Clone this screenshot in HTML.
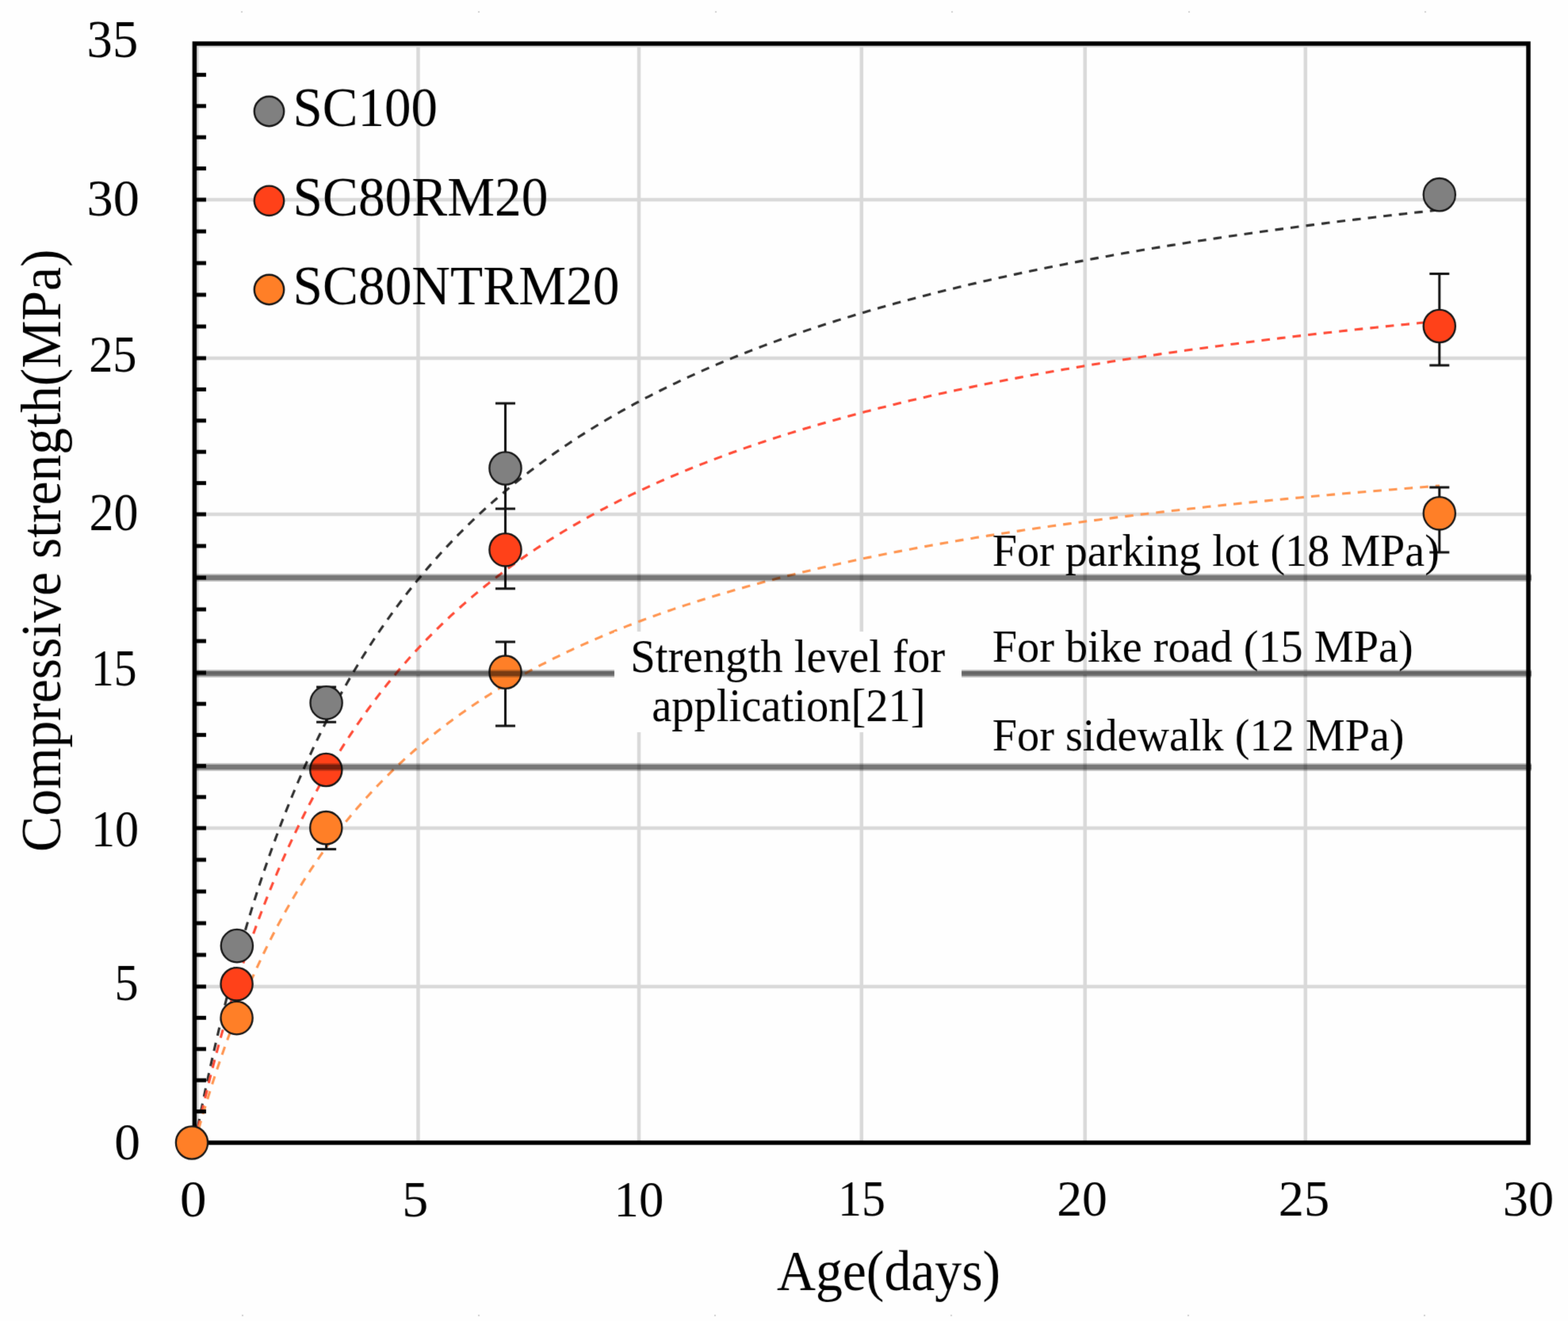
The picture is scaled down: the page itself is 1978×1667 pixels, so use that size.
<!DOCTYPE html>
<html><head><meta charset="utf-8"><title>Compressive strength chart</title>
<style>html,body{margin:0;padding:0;background:#fefefe;width:1978px;height:1667px;overflow:hidden}</style>
</head><body>
<svg width="1978" height="1667" viewBox="0 0 1978 1667" style="display:block">
<defs><filter id="sf" x="0" y="0" width="1978" height="1667" filterUnits="userSpaceOnUse" color-interpolation-filters="sRGB"><feConvolveMatrix order="3" kernelMatrix="0.01134 0.08382 0.01134 0.08382 0.61935 0.08382 0.01134 0.08382 0.01134" edgeMode="duplicate" preserveAlpha="true"/></filter></defs>
<g filter="url(#sf)">
<rect x="0" y="0" width="1978" height="1667" fill="#fefefe"/>
<line x1="248.5" y1="55" x2="248.5" y2="1442" stroke="#d9d9d9" stroke-width="4.5"/>
<line x1="527.5" y1="55" x2="527.5" y2="1442" stroke="#d9d9d9" stroke-width="4.5"/>
<line x1="806" y1="55" x2="806" y2="1442" stroke="#d9d9d9" stroke-width="4.5"/>
<line x1="1086.8" y1="55" x2="1086.8" y2="1442" stroke="#d9d9d9" stroke-width="4.5"/>
<line x1="1368.7" y1="55" x2="1368.7" y2="1442" stroke="#d9d9d9" stroke-width="4.5"/>
<line x1="1646.8" y1="55" x2="1646.8" y2="1442" stroke="#d9d9d9" stroke-width="4.5"/>
<line x1="245" y1="57.5" x2="1928" y2="57.5" stroke="#d9d9d9" stroke-width="4.5"/>
<line x1="245" y1="252" x2="1928" y2="252" stroke="#d9d9d9" stroke-width="4.5"/>
<line x1="245" y1="452" x2="1928" y2="452" stroke="#d9d9d9" stroke-width="4.5"/>
<line x1="245" y1="649" x2="1928" y2="649" stroke="#d9d9d9" stroke-width="4.5"/>
<line x1="245" y1="849" x2="1928" y2="849" stroke="#d9d9d9" stroke-width="4.5"/>
<line x1="245" y1="1045" x2="1928" y2="1045" stroke="#d9d9d9" stroke-width="4.5"/>
<line x1="245" y1="1245" x2="1928" y2="1245" stroke="#d9d9d9" stroke-width="4.5"/>
<polyline points="245.40,1443.50 245.41,1443.47 245.43,1443.37 245.46,1443.20 245.50,1442.97 245.56,1442.68 245.63,1442.32 245.71,1441.89 245.80,1441.40 245.91,1440.84 246.03,1440.22 246.16,1439.53 246.30,1438.78 246.46,1437.96 246.63,1437.08 246.81,1436.14 247.01,1435.13 247.22,1434.06 247.44,1432.92 247.67,1431.73 247.91,1430.47 248.17,1429.15 248.44,1427.76 248.72,1426.32 249.02,1424.81 249.33,1423.24 249.65,1421.62 249.98,1419.93 250.33,1418.19 250.68,1416.38 251.05,1414.52 251.44,1412.60 251.83,1410.62 252.24,1408.59 252.66,1406.50 253.10,1404.35 253.54,1402.15 254.00,1399.90 254.47,1397.59 254.96,1395.22 255.45,1392.81 255.96,1390.34 256.48,1387.82 257.02,1385.25 257.56,1382.64 258.12,1379.97 258.69,1377.25 259.28,1374.48 259.87,1371.67 260.48,1368.81 261.11,1365.90 261.74,1362.95 262.39,1359.96 263.05,1356.92 263.72,1353.83 264.40,1350.71 265.10,1347.54 265.81,1344.33 266.53,1341.08 267.27,1337.80 268.02,1334.47 268.78,1331.10 269.55,1327.70 270.33,1324.26 271.13,1320.79 271.94,1317.28 272.77,1313.73 273.60,1310.15 274.45,1306.54 275.31,1302.90 276.18,1299.22 277.07,1295.52 277.97,1291.78 278.88,1288.02 279.80,1284.23 280.74,1280.41 281.69,1276.56 282.65,1272.69 283.62,1268.79 284.61,1264.87 285.61,1260.92 286.62,1256.95 287.64,1252.96 288.68,1248.94 289.73,1244.91 290.79,1240.85 291.86,1236.78 292.95,1232.68 294.05,1228.57 295.16,1224.44 296.29,1220.29 297.42,1216.13 298.57,1211.95 299.74,1207.75 300.91,1203.55 302.10,1199.32 303.30,1195.09 304.51,1190.84 305.74,1186.58 306.97,1182.31 308.22,1178.03 309.49,1173.75 310.76,1169.45 312.05,1165.14 313.35,1160.82 314.66,1156.50 315.99,1152.17 317.33,1147.84 318.68,1143.49 320.04,1139.15 321.42,1134.80 322.81,1130.44 324.21,1126.08 325.62,1121.72 327.05,1117.36 328.48,1112.99 329.94,1108.62 331.40,1104.25 332.88,1099.88 334.37,1095.51 335.87,1091.14 337.38,1086.78 338.91,1082.41 340.45,1078.04 342.00,1073.68 343.56,1069.32 345.14,1064.97 346.73,1060.61 348.33,1056.26 349.95,1051.92 351.57,1047.58 353.21,1043.24 354.86,1038.91 356.53,1034.59 358.21,1030.27 359.90,1025.96 361.60,1021.65 363.31,1017.35 365.04,1013.06 366.78,1008.78 368.54,1004.50 370.30,1000.24 372.08,995.98 373.87,991.73 375.67,987.49 377.49,983.26 379.32,979.05 381.16,974.84 383.01,970.64 384.88,966.45 386.75,962.27 388.65,958.10 390.55,953.95 392.46,949.81 394.39,945.67 396.33,941.55 398.29,937.45 400.25,933.35 402.23,929.27 404.23,925.20 406.23,921.14 408.25,917.10 410.28,913.07 412.32,909.05 414.37,905.05 416.44,901.06 418.52,897.08 420.61,893.12 422.71,889.17 424.83,885.24 426.96,881.32 429.10,877.42 431.26,873.53 433.43,869.65 435.61,865.79 437.80,861.95 440.00,858.12 442.22,854.31 444.45,850.51 446.69,846.72 448.95,842.96 451.22,839.20 453.50,835.47 455.79,831.75 458.10,828.04 460.42,824.35 462.75,820.68 465.09,817.02 467.45,813.38 469.81,809.75 472.19,806.15 474.59,802.55 476.99,798.98 479.41,795.42 481.84,791.87 484.29,788.34 486.74,784.83 489.21,781.34 491.70,777.86 494.19,774.40 496.70,770.95 499.22,767.52 501.75,764.11 504.29,760.71 506.85,757.33 509.42,753.97 512.00,750.62 514.59,747.29 517.20,743.97 519.82,740.67 522.45,737.39 525.10,734.13 527.76,730.88 530.43,727.65 533.11,724.43 535.80,721.23 538.51,718.05 541.23,714.88 543.96,711.73 546.71,708.59 549.47,705.48 552.24,702.37 555.02,699.29 557.82,696.22 560.63,693.16 563.45,690.13 566.28,687.11 569.13,684.10 571.98,681.11 574.86,678.14 577.74,675.18 580.64,672.24 583.54,669.31 586.47,666.40 589.40,663.50 592.35,660.62 595.30,657.76 598.28,654.91 601.26,652.08 604.26,649.26 607.27,646.46 610.29,643.67 613.32,640.90 616.37,638.15 619.43,635.41 622.50,632.68 625.59,629.97 628.68,627.28 631.79,624.59 634.92,621.93 638.05,619.28 641.20,616.64 644.36,614.02 647.53,611.41 650.72,608.82 653.91,606.24 657.12,603.68 660.35,601.13 663.58,598.60 666.83,596.08 670.09,593.57 673.36,591.08 676.65,588.60 679.95,586.14 683.26,583.69 686.58,581.25 689.92,578.83 693.27,576.42 696.63,574.02 700.00,571.64 703.39,569.28 706.79,566.92 710.20,564.58 713.62,562.25 717.06,559.94 720.51,557.64 723.97,555.35 727.44,553.08 730.93,550.81 734.43,548.57 737.94,546.33 741.46,544.11 745.00,541.90 748.55,539.70 752.11,537.51 755.69,535.34 759.28,533.18 762.88,531.03 766.49,528.90 770.11,526.78 773.75,524.66 777.40,522.57 781.06,520.48 784.74,518.40 788.43,516.34 792.13,514.29 795.84,512.25 799.56,510.22 803.30,508.21 807.05,506.20 810.82,504.21 814.59,502.23 818.38,500.26 822.18,498.30 825.99,496.36 829.82,494.42 833.66,492.50 837.51,490.58 841.37,488.68 845.25,486.79 849.14,484.91 853.04,483.04 856.95,481.18 860.88,479.33 864.82,477.49 868.77,475.66 872.74,473.85 876.71,472.04 880.70,470.24 884.70,468.46 888.72,466.68 892.74,464.92 896.78,463.16 900.84,461.42 904.90,459.68 908.98,457.96 913.07,456.24 917.17,454.53 921.29,452.84 925.41,451.15 929.55,449.48 933.71,447.81 937.87,446.15 942.05,444.50 946.24,442.86 950.44,441.24 954.66,439.62 958.89,438.00 963.13,436.40 967.38,434.81 971.65,433.23 975.92,431.65 980.21,430.09 984.52,428.53 988.83,426.98 993.16,425.44 997.50,423.91 1001.86,422.39 1006.22,420.88 1010.60,419.37 1014.99,417.88 1019.40,416.39 1023.81,414.91 1028.24,413.44 1032.69,411.98 1037.14,410.52 1041.61,409.08 1046.09,407.64 1050.58,406.21 1055.08,404.79 1059.60,403.37 1064.13,401.97 1068.67,400.57 1073.23,399.18 1077.79,397.80 1082.37,396.42 1086.97,395.06 1091.57,393.70 1096.19,392.34 1100.82,391.00 1105.46,389.66 1110.12,388.33 1114.78,387.01 1119.46,385.70 1124.16,384.39 1128.86,383.09 1133.58,381.80 1138.31,380.51 1143.05,379.23 1147.81,377.96 1152.58,376.70 1157.36,375.44 1162.15,374.19 1166.96,372.94 1171.78,371.71 1176.61,370.48 1181.45,369.25 1186.31,368.04 1191.18,366.83 1196.06,365.62 1200.95,364.43 1205.86,363.24 1210.78,362.05 1215.71,360.88 1220.65,359.70 1225.61,358.54 1230.58,357.38 1235.56,356.23 1240.56,355.08 1245.56,353.95 1250.58,352.81 1255.62,351.68 1260.66,350.56 1265.72,349.45 1270.79,348.34 1275.87,347.24 1280.97,346.14 1286.07,345.05 1291.19,343.96 1296.33,342.88 1301.47,341.81 1306.63,340.74 1311.80,339.68 1316.98,338.62 1322.18,337.57 1327.39,336.53 1332.61,335.49 1337.84,334.45 1343.09,333.43 1348.34,332.40 1353.62,331.38 1358.90,330.37 1364.19,329.37 1369.50,328.36 1374.82,327.37 1380.16,326.38 1385.50,325.39 1390.86,324.41 1396.24,323.43 1401.62,322.46 1407.02,321.50 1412.42,320.54 1417.85,319.58 1423.28,318.63 1428.73,317.69 1434.19,316.75 1439.66,315.81 1445.14,314.88 1450.64,313.96 1456.15,313.04 1461.67,312.12 1467.21,311.21 1472.75,310.30 1478.31,309.40 1483.89,308.50 1489.47,307.61 1495.07,306.72 1500.68,305.84 1506.30,304.96 1511.94,304.09 1517.59,303.22 1523.25,302.35 1528.92,301.49 1534.61,300.63 1540.30,299.78 1546.01,298.93 1551.74,298.09 1557.47,297.25 1563.22,296.42 1568.98,295.58 1574.76,294.76 1580.54,293.94 1586.34,293.12 1592.15,292.30 1597.98,291.49 1603.81,290.69 1609.66,289.89 1615.52,289.09 1621.40,288.30 1627.28,287.51 1633.18,286.72 1639.09,285.94 1645.02,285.16 1650.96,284.39 1656.90,283.62 1662.87,282.85 1668.84,282.09 1674.83,281.33 1680.83,280.58 1686.84,279.82 1692.86,279.08 1698.90,278.33 1704.95,277.59 1711.01,276.86 1717.09,276.12 1723.18,275.40 1729.28,274.67 1735.39,273.95 1741.52,273.23 1747.65,272.52 1753.80,271.80 1759.97,271.10 1766.14,270.39 1772.33,269.69 1778.53,268.99 1784.75,268.30 1790.97,267.61 1797.21,266.92 1803.46,266.24 1809.72,265.56 1816.00,264.88" fill="none" stroke="#2e2e2e" stroke-width="3.1" stroke-dasharray="10.6 9.076" stroke-dashoffset="17.8"/>
<polyline points="245.40,1443.50 245.41,1443.47 245.43,1443.39 245.46,1443.24 245.50,1443.04 245.56,1442.78 245.63,1442.47 245.71,1442.09 245.80,1441.67 245.91,1441.18 246.03,1440.64 246.16,1440.04 246.30,1439.38 246.46,1438.67 246.63,1437.90 246.81,1437.08 247.01,1436.20 247.22,1435.26 247.44,1434.27 247.67,1433.22 247.91,1432.12 248.17,1430.97 248.44,1429.76 248.72,1428.50 249.02,1427.19 249.33,1425.82 249.65,1424.40 249.98,1422.93 250.33,1421.40 250.68,1419.83 251.05,1418.20 251.44,1416.53 251.83,1414.80 252.24,1413.02 252.66,1411.20 253.10,1409.32 253.54,1407.40 254.00,1405.43 254.47,1403.42 254.96,1401.35 255.45,1399.24 255.96,1397.09 256.48,1394.89 257.02,1392.64 257.56,1390.36 258.12,1388.02 258.69,1385.65 259.28,1383.23 259.87,1380.78 260.48,1378.28 261.11,1375.74 261.74,1373.16 262.39,1370.54 263.05,1367.88 263.72,1365.19 264.40,1362.46 265.10,1359.69 265.81,1356.89 266.53,1354.05 267.27,1351.17 268.02,1348.26 268.78,1345.32 269.55,1342.34 270.33,1339.34 271.13,1336.30 271.94,1333.23 272.77,1330.13 273.60,1327.00 274.45,1323.84 275.31,1320.66 276.18,1317.44 277.07,1314.20 277.97,1310.93 278.88,1307.64 279.80,1304.32 280.74,1300.98 281.69,1297.61 282.65,1294.22 283.62,1290.81 284.61,1287.38 285.61,1283.92 286.62,1280.45 287.64,1276.95 288.68,1273.44 289.73,1269.91 290.79,1266.36 291.86,1262.79 292.95,1259.20 294.05,1255.60 295.16,1251.98 296.29,1248.35 297.42,1244.70 298.57,1241.04 299.74,1237.37 300.91,1233.68 302.10,1229.98 303.30,1226.27 304.51,1222.55 305.74,1218.82 306.97,1215.08 308.22,1211.33 309.49,1207.57 310.76,1203.80 312.05,1200.03 313.35,1196.24 314.66,1192.45 315.99,1188.66 317.33,1184.86 318.68,1181.05 320.04,1177.24 321.42,1173.42 322.81,1169.60 324.21,1165.78 325.62,1161.95 327.05,1158.12 328.48,1154.29 329.94,1150.46 331.40,1146.63 332.88,1142.79 334.37,1138.96 335.87,1135.12 337.38,1131.29 338.91,1127.46 340.45,1123.63 342.00,1119.80 343.56,1115.97 345.14,1112.14 346.73,1108.32 348.33,1104.50 349.95,1100.68 351.57,1096.87 353.21,1093.06 354.86,1089.26 356.53,1085.46 358.21,1081.67 359.90,1077.88 361.60,1074.10 363.31,1070.32 365.04,1066.55 366.78,1062.79 368.54,1059.03 370.30,1055.28 372.08,1051.54 373.87,1047.81 375.67,1044.08 377.49,1040.36 379.32,1036.65 381.16,1032.95 383.01,1029.26 384.88,1025.57 386.75,1021.90 388.65,1018.24 390.55,1014.58 392.46,1010.94 394.39,1007.30 396.33,1003.68 398.29,1000.06 400.25,996.46 402.23,992.87 404.23,989.29 406.23,985.72 408.25,982.16 410.28,978.61 412.32,975.08 414.37,971.55 416.44,968.04 418.52,964.54 420.61,961.05 422.71,957.58 424.83,954.11 426.96,950.66 429.10,947.22 431.26,943.80 433.43,940.39 435.61,936.99 437.80,933.60 440.00,930.23 442.22,926.87 444.45,923.52 446.69,920.19 448.95,916.87 451.22,913.56 453.50,910.27 455.79,906.99 458.10,903.72 460.42,900.47 462.75,897.24 465.09,894.01 467.45,890.80 469.81,887.61 472.19,884.42 474.59,881.26 476.99,878.10 479.41,874.96 481.84,871.84 484.29,868.73 486.74,865.63 489.21,862.55 491.70,859.48 494.19,856.42 496.70,853.38 499.22,850.36 501.75,847.35 504.29,844.35 506.85,841.37 509.42,838.40 512.00,835.45 514.59,832.51 517.20,829.58 519.82,826.67 522.45,823.77 525.10,820.89 527.76,818.02 530.43,815.17 533.11,812.33 535.80,809.51 538.51,806.70 541.23,803.90 543.96,801.12 546.71,798.35 549.47,795.60 552.24,792.86 555.02,790.13 557.82,787.42 560.63,784.72 563.45,782.04 566.28,779.37 569.13,776.72 571.98,774.07 574.86,771.45 577.74,768.83 580.64,766.23 583.54,763.65 586.47,761.08 589.40,758.52 592.35,755.98 595.30,753.44 598.28,750.93 601.26,748.42 604.26,745.93 607.27,743.46 610.29,740.99 613.32,738.54 616.37,736.11 619.43,733.69 622.50,731.28 625.59,728.88 628.68,726.50 631.79,724.13 634.92,721.77 638.05,719.42 641.20,717.09 644.36,714.77 647.53,712.47 650.72,710.18 653.91,707.90 657.12,705.63 660.35,703.37 663.58,701.13 666.83,698.90 670.09,696.69 673.36,694.48 676.65,692.29 679.95,690.11 683.26,687.94 686.58,685.79 689.92,683.64 693.27,681.51 696.63,679.39 700.00,677.29 703.39,675.19 706.79,673.11 710.20,671.03 713.62,668.97 717.06,666.93 720.51,664.89 723.97,662.86 727.44,660.85 730.93,658.85 734.43,656.86 737.94,654.88 741.46,652.91 745.00,650.95 748.55,649.01 752.11,647.07 755.69,645.15 759.28,643.24 762.88,641.33 766.49,639.44 770.11,637.56 773.75,635.69 777.40,633.84 781.06,631.99 784.74,630.15 788.43,628.32 792.13,626.51 795.84,624.70 799.56,622.90 803.30,621.12 807.05,619.34 810.82,617.58 814.59,615.82 818.38,614.08 822.18,612.34 825.99,610.62 829.82,608.90 833.66,607.20 837.51,605.50 841.37,603.81 845.25,602.14 849.14,600.47 853.04,598.81 856.95,597.17 860.88,595.53 864.82,593.90 868.77,592.28 872.74,590.67 876.71,589.07 880.70,587.48 884.70,585.89 888.72,584.32 892.74,582.75 896.78,581.20 900.84,579.65 904.90,578.11 908.98,576.58 913.07,575.06 917.17,573.55 921.29,572.05 925.41,570.55 929.55,569.06 933.71,567.59 937.87,566.12 942.05,564.65 946.24,563.20 950.44,561.76 954.66,560.32 958.89,558.89 963.13,557.47 967.38,556.06 971.65,554.65 975.92,553.26 980.21,551.87 984.52,550.49 988.83,549.12 993.16,547.75 997.50,546.39 1001.86,545.04 1006.22,543.70 1010.60,542.37 1014.99,541.04 1019.40,539.72 1023.81,538.41 1028.24,537.10 1032.69,535.80 1037.14,534.51 1041.61,533.23 1046.09,531.95 1050.58,530.69 1055.08,529.42 1059.60,528.17 1064.13,526.92 1068.67,525.68 1073.23,524.45 1077.79,523.22 1082.37,522.00 1086.97,520.79 1091.57,519.58 1096.19,518.38 1100.82,517.19 1105.46,516.00 1110.12,514.82 1114.78,513.65 1119.46,512.48 1124.16,511.32 1128.86,510.17 1133.58,509.02 1138.31,507.88 1143.05,506.74 1147.81,505.61 1152.58,504.49 1157.36,503.38 1162.15,502.27 1166.96,501.16 1171.78,500.06 1176.61,498.97 1181.45,497.88 1186.31,496.80 1191.18,495.73 1196.06,494.66 1200.95,493.60 1205.86,492.54 1210.78,491.49 1215.71,490.45 1220.65,489.41 1225.61,488.37 1230.58,487.34 1235.56,486.32 1240.56,485.30 1245.56,484.29 1250.58,483.28 1255.62,482.28 1260.66,481.29 1265.72,480.30 1270.79,479.31 1275.87,478.33 1280.97,477.36 1286.07,476.39 1291.19,475.43 1296.33,474.47 1301.47,473.51 1306.63,472.56 1311.80,471.62 1316.98,470.68 1322.18,469.75 1327.39,468.82 1332.61,467.90 1337.84,466.98 1343.09,466.06 1348.34,465.16 1353.62,464.25 1358.90,463.35 1364.19,462.46 1369.50,461.57 1374.82,460.68 1380.16,459.80 1385.50,458.93 1390.86,458.06 1396.24,457.19 1401.62,456.33 1407.02,455.47 1412.42,454.62 1417.85,453.77 1423.28,452.92 1428.73,452.08 1434.19,451.25 1439.66,450.42 1445.14,449.59 1450.64,448.77 1456.15,447.95 1461.67,447.13 1467.21,446.32 1472.75,445.52 1478.31,444.72 1483.89,443.92 1489.47,443.13 1495.07,442.34 1500.68,441.55 1506.30,440.77 1511.94,439.99 1517.59,439.22 1523.25,438.45 1528.92,437.69 1534.61,436.93 1540.30,436.17 1546.01,435.41 1551.74,434.66 1557.47,433.92 1563.22,433.18 1568.98,432.44 1574.76,431.70 1580.54,430.97 1586.34,430.25 1592.15,429.52 1597.98,428.80 1603.81,428.09 1609.66,427.37 1615.52,426.66 1621.40,425.96 1627.28,425.26 1633.18,424.56 1639.09,423.86 1645.02,423.17 1650.96,422.48 1656.90,421.80 1662.87,421.12 1668.84,420.44 1674.83,419.77 1680.83,419.09 1686.84,418.43 1692.86,417.76 1698.90,417.10 1704.95,416.44 1711.01,415.79 1717.09,415.14 1723.18,414.49 1729.28,413.84 1735.39,413.20 1741.52,412.56 1747.65,411.93 1753.80,411.30 1759.97,410.67 1766.14,410.04 1772.33,409.42 1778.53,408.80 1784.75,408.18 1790.97,407.56 1797.21,406.95 1803.46,406.35 1809.72,405.74 1816.00,405.14" fill="none" stroke="#ff4a35" stroke-width="3.1" stroke-dasharray="10.6 9.076" stroke-dashoffset="19.56"/>
<polyline points="245.40,1443.50 245.41,1443.48 245.43,1443.41 245.46,1443.29 245.50,1443.13 245.56,1442.92 245.63,1442.67 245.71,1442.37 245.80,1442.03 245.91,1441.64 246.03,1441.20 246.16,1440.72 246.30,1440.20 246.46,1439.62 246.63,1439.01 246.81,1438.35 247.01,1437.64 247.22,1436.89 247.44,1436.10 247.67,1435.26 247.91,1434.38 248.17,1433.45 248.44,1432.48 248.72,1431.47 249.02,1430.42 249.33,1429.32 249.65,1428.18 249.98,1427.00 250.33,1425.78 250.68,1424.52 251.05,1423.21 251.44,1421.87 251.83,1420.48 252.24,1419.06 252.66,1417.59 253.10,1416.09 253.54,1414.55 254.00,1412.97 254.47,1411.35 254.96,1409.70 255.45,1408.01 255.96,1406.28 256.48,1404.52 257.02,1402.72 257.56,1400.88 258.12,1399.01 258.69,1397.11 259.28,1395.17 259.87,1393.20 260.48,1391.20 261.11,1389.16 261.74,1387.10 262.39,1385.00 263.05,1382.87 263.72,1380.71 264.40,1378.52 265.10,1376.30 265.81,1374.05 266.53,1371.77 267.27,1369.47 268.02,1367.14 268.78,1364.78 269.55,1362.39 270.33,1359.98 271.13,1357.55 271.94,1355.09 272.77,1352.60 273.60,1350.09 274.45,1347.56 275.31,1345.01 276.18,1342.43 277.07,1339.83 277.97,1337.22 278.88,1334.58 279.80,1331.92 280.74,1329.24 281.69,1326.54 282.65,1323.82 283.62,1321.09 284.61,1318.34 285.61,1315.57 286.62,1312.79 287.64,1309.98 288.68,1307.17 289.73,1304.34 290.79,1301.49 291.86,1298.63 292.95,1295.76 294.05,1292.87 295.16,1289.98 296.29,1287.07 297.42,1284.14 298.57,1281.21 299.74,1278.27 300.91,1275.32 302.10,1272.35 303.30,1269.38 304.51,1266.40 305.74,1263.41 306.97,1260.41 308.22,1257.41 309.49,1254.40 310.76,1251.38 312.05,1248.35 313.35,1245.32 314.66,1242.29 315.99,1239.25 317.33,1236.20 318.68,1233.15 320.04,1230.10 321.42,1227.04 322.81,1223.99 324.21,1220.92 325.62,1217.86 327.05,1214.79 328.48,1211.73 329.94,1208.66 331.40,1205.59 332.88,1202.52 334.37,1199.45 335.87,1196.38 337.38,1193.31 338.91,1190.24 340.45,1187.17 342.00,1184.10 343.56,1181.04 345.14,1177.98 346.73,1174.92 348.33,1171.86 349.95,1168.80 351.57,1165.75 353.21,1162.70 354.86,1159.66 356.53,1156.62 358.21,1153.58 359.90,1150.55 361.60,1147.52 363.31,1144.50 365.04,1141.48 366.78,1138.47 368.54,1135.46 370.30,1132.46 372.08,1129.47 373.87,1126.48 375.67,1123.49 377.49,1120.52 379.32,1117.55 381.16,1114.59 383.01,1111.63 384.88,1108.69 386.75,1105.75 388.65,1102.81 390.55,1099.89 392.46,1096.97 394.39,1094.06 396.33,1091.16 398.29,1088.27 400.25,1085.39 402.23,1082.52 404.23,1079.65 406.23,1076.79 408.25,1073.95 410.28,1071.11 412.32,1068.28 414.37,1065.46 416.44,1062.65 418.52,1059.85 420.61,1057.06 422.71,1054.28 424.83,1051.51 426.96,1048.75 429.10,1046.00 431.26,1043.26 433.43,1040.53 435.61,1037.81 437.80,1035.10 440.00,1032.41 442.22,1029.72 444.45,1027.04 446.69,1024.37 448.95,1021.72 451.22,1019.08 453.50,1016.44 455.79,1013.82 458.10,1011.21 460.42,1008.61 462.75,1006.02 465.09,1003.44 467.45,1000.87 469.81,998.32 472.19,995.77 474.59,993.24 476.99,990.72 479.41,988.21 481.84,985.71 484.29,983.22 486.74,980.75 489.21,978.28 491.70,975.83 494.19,973.39 496.70,970.96 499.22,968.54 501.75,966.13 504.29,963.73 506.85,961.35 509.42,958.98 512.00,956.61 514.59,954.26 517.20,951.93 519.82,949.60 522.45,947.28 525.10,944.98 527.76,942.69 530.43,940.41 533.11,938.14 535.80,935.88 538.51,933.63 541.23,931.40 543.96,929.17 546.71,926.96 549.47,924.76 552.24,922.57 555.02,920.39 557.82,918.23 560.63,916.07 563.45,913.93 566.28,911.79 569.13,909.67 571.98,907.56 574.86,905.46 577.74,903.37 580.64,901.30 583.54,899.23 586.47,897.17 589.40,895.13 592.35,893.10 595.30,891.07 598.28,889.06 601.26,887.06 604.26,885.07 607.27,883.09 610.29,881.13 613.32,879.17 616.37,877.22 619.43,875.29 622.50,873.36 625.59,871.45 628.68,869.54 631.79,867.65 634.92,865.77 638.05,863.89 641.20,862.03 644.36,860.18 647.53,858.34 650.72,856.50 653.91,854.68 657.12,852.87 660.35,851.07 663.58,849.28 666.83,847.50 670.09,845.73 673.36,843.97 676.65,842.22 679.95,840.47 683.26,838.74 686.58,837.02 689.92,835.31 693.27,833.61 696.63,831.91 700.00,830.23 703.39,828.56 706.79,826.89 710.20,825.24 713.62,823.59 717.06,821.96 720.51,820.33 723.97,818.71 727.44,817.10 730.93,815.50 734.43,813.91 737.94,812.33 741.46,810.76 745.00,809.20 748.55,807.65 752.11,806.10 755.69,804.56 759.28,803.04 762.88,801.52 766.49,800.01 770.11,798.51 773.75,797.01 777.40,795.53 781.06,794.05 784.74,792.59 788.43,791.13 792.13,789.68 795.84,788.23 799.56,786.80 803.30,785.37 807.05,783.96 810.82,782.55 814.59,781.14 818.38,779.75 822.18,778.37 825.99,776.99 829.82,775.62 833.66,774.26 837.51,772.90 841.37,771.56 845.25,770.22 849.14,768.89 853.04,767.56 856.95,766.25 860.88,764.94 864.82,763.64 868.77,762.35 872.74,761.06 876.71,759.78 880.70,758.51 884.70,757.25 888.72,755.99 892.74,754.74 896.78,753.50 900.84,752.26 904.90,751.04 908.98,749.81 913.07,748.60 917.17,747.39 921.29,746.19 925.41,745.00 929.55,743.81 933.71,742.63 937.87,741.46 942.05,740.29 946.24,739.13 950.44,737.98 954.66,736.83 958.89,735.69 963.13,734.56 967.38,733.43 971.65,732.31 975.92,731.20 980.21,730.09 984.52,728.98 988.83,727.89 993.16,726.80 997.50,725.72 1001.86,724.64 1006.22,723.57 1010.60,722.50 1014.99,721.44 1019.40,720.39 1023.81,719.34 1028.24,718.30 1032.69,717.26 1037.14,716.23 1041.61,715.21 1046.09,714.19 1050.58,713.18 1055.08,712.17 1059.60,711.17 1064.13,710.18 1068.67,709.19 1073.23,708.20 1077.79,707.22 1082.37,706.25 1086.97,705.28 1091.57,704.32 1096.19,703.36 1100.82,702.41 1105.46,701.46 1110.12,700.52 1114.78,699.58 1119.46,698.65 1124.16,697.72 1128.86,696.80 1133.58,695.89 1138.31,694.98 1143.05,694.07 1147.81,693.17 1152.58,692.27 1157.36,691.38 1162.15,690.50 1166.96,689.62 1171.78,688.74 1176.61,687.87 1181.45,687.00 1186.31,686.14 1191.18,685.28 1196.06,684.43 1200.95,683.58 1205.86,682.74 1210.78,681.90 1215.71,681.07 1220.65,680.24 1225.61,679.41 1230.58,678.59 1235.56,677.77 1240.56,676.96 1245.56,676.15 1250.58,675.35 1255.62,674.55 1260.66,673.76 1265.72,672.97 1270.79,672.18 1275.87,671.40 1280.97,670.62 1286.07,669.85 1291.19,669.08 1296.33,668.32 1301.47,667.56 1306.63,666.80 1311.80,666.05 1316.98,665.30 1322.18,664.55 1327.39,663.81 1332.61,663.07 1337.84,662.34 1343.09,661.61 1348.34,660.89 1353.62,660.17 1358.90,659.45 1364.19,658.73 1369.50,658.02 1374.82,657.32 1380.16,656.62 1385.50,655.92 1390.86,655.22 1396.24,654.53 1401.62,653.84 1407.02,653.16 1412.42,652.48 1417.85,651.80 1423.28,651.13 1428.73,650.46 1434.19,649.79 1439.66,649.13 1445.14,648.47 1450.64,647.81 1456.15,647.16 1461.67,646.51 1467.21,645.86 1472.75,645.22 1478.31,644.58 1483.89,643.95 1489.47,643.31 1495.07,642.68 1500.68,642.06 1506.30,641.43 1511.94,640.81 1517.59,640.20 1523.25,639.58 1528.92,638.97 1534.61,638.37 1540.30,637.76 1546.01,637.16 1551.74,636.56 1557.47,635.97 1563.22,635.38 1568.98,634.79 1574.76,634.20 1580.54,633.62 1586.34,633.04 1592.15,632.46 1597.98,631.89 1603.81,631.31 1609.66,630.75 1615.52,630.18 1621.40,629.62 1627.28,629.06 1633.18,628.50 1639.09,627.95 1645.02,627.39 1650.96,626.85 1656.90,626.30 1662.87,625.76 1668.84,625.22 1674.83,624.68 1680.83,624.14 1686.84,623.61 1692.86,623.08 1698.90,622.55 1704.95,622.03 1711.01,621.51 1717.09,620.99 1723.18,620.47 1729.28,619.95 1735.39,619.44 1741.52,618.93 1747.65,618.43 1753.80,617.92 1759.97,617.42 1766.14,616.92 1772.33,616.42 1778.53,615.93 1784.75,615.44 1790.97,614.95 1797.21,614.46 1803.46,613.97 1809.72,613.49 1816.00,613.01" fill="none" stroke="#ff9550" stroke-width="3.1" stroke-dasharray="10.6 9.076" stroke-dashoffset="0.28"/>
<line x1="411.6" y1="867" x2="411.6" y2="886.9" stroke="#111" stroke-width="3"/><line x1="399.1" y1="867" x2="424.1" y2="867" stroke="#111" stroke-width="3"/><line x1="411.6" y1="886.9" x2="411.6" y2="911.2" stroke="#111" stroke-width="3"/><line x1="399.1" y1="911.2" x2="424.1" y2="911.2" stroke="#111" stroke-width="3"/>
<line x1="411.6" y1="1044.7" x2="411.6" y2="1071.6" stroke="#111" stroke-width="3"/><line x1="399.1" y1="1071.6" x2="424.1" y2="1071.6" stroke="#111" stroke-width="3"/>
<line x1="637.5" y1="509" x2="637.5" y2="591" stroke="#111" stroke-width="3"/><line x1="625.0" y1="509" x2="650.0" y2="509" stroke="#111" stroke-width="3"/>
<line x1="637.5" y1="591" x2="637.5" y2="675" stroke="#111" stroke-width="3"/>
<line x1="637.5" y1="642" x2="637.5" y2="693.8" stroke="#111" stroke-width="3"/><line x1="625.0" y1="642" x2="650.0" y2="642" stroke="#111" stroke-width="3"/><line x1="637.5" y1="693.8" x2="637.5" y2="742.8" stroke="#111" stroke-width="3"/><line x1="625.0" y1="742.8" x2="650.0" y2="742.8" stroke="#111" stroke-width="3"/>
<line x1="637.5" y1="810" x2="637.5" y2="848.2" stroke="#111" stroke-width="3"/><line x1="625.0" y1="810" x2="650.0" y2="810" stroke="#111" stroke-width="3"/><line x1="637.5" y1="848.2" x2="637.5" y2="916" stroke="#111" stroke-width="3"/><line x1="625.0" y1="916" x2="650.0" y2="916" stroke="#111" stroke-width="3"/>
<line x1="1815.8" y1="345.5" x2="1815.8" y2="411.5" stroke="#111" stroke-width="3"/><line x1="1803.3" y1="345.5" x2="1828.3" y2="345.5" stroke="#111" stroke-width="3"/><line x1="1815.8" y1="411.5" x2="1815.8" y2="461" stroke="#111" stroke-width="3"/><line x1="1803.3" y1="461" x2="1828.3" y2="461" stroke="#111" stroke-width="3"/>
<line x1="1815.8" y1="615" x2="1815.8" y2="647.8" stroke="#111" stroke-width="3"/><line x1="1803.3" y1="615" x2="1828.3" y2="615" stroke="#111" stroke-width="3"/><line x1="1815.8" y1="647.8" x2="1815.8" y2="697" stroke="#111" stroke-width="3"/><line x1="1803.3" y1="697" x2="1828.3" y2="697" stroke="#111" stroke-width="3"/>
<rect x="245.4" y="55" width="1682.6" height="1387" fill="none" stroke="#000" stroke-width="5.5"/>
<line x1="245" y1="1402.6" x2="260" y2="1402.6" stroke="#000" stroke-width="5"/>
<line x1="245" y1="1363.2" x2="260" y2="1363.2" stroke="#000" stroke-width="5"/>
<line x1="245" y1="1323.8" x2="260" y2="1323.8" stroke="#000" stroke-width="5"/>
<line x1="245" y1="1284.4" x2="260" y2="1284.4" stroke="#000" stroke-width="5"/>
<line x1="245" y1="1245.0" x2="260" y2="1245.0" stroke="#000" stroke-width="5"/>
<line x1="245" y1="1205.0" x2="260" y2="1205.0" stroke="#000" stroke-width="5"/>
<line x1="245" y1="1165.0" x2="260" y2="1165.0" stroke="#000" stroke-width="5"/>
<line x1="245" y1="1125.0" x2="260" y2="1125.0" stroke="#000" stroke-width="5"/>
<line x1="245" y1="1085.0" x2="260" y2="1085.0" stroke="#000" stroke-width="5"/>
<line x1="245" y1="1045.0" x2="260" y2="1045.0" stroke="#000" stroke-width="5"/>
<line x1="245" y1="1005.8" x2="260" y2="1005.8" stroke="#000" stroke-width="5"/>
<line x1="245" y1="966.6" x2="260" y2="966.6" stroke="#000" stroke-width="5"/>
<line x1="245" y1="927.4" x2="260" y2="927.4" stroke="#000" stroke-width="5"/>
<line x1="245" y1="888.2" x2="260" y2="888.2" stroke="#000" stroke-width="5"/>
<line x1="245" y1="849.0" x2="260" y2="849.0" stroke="#000" stroke-width="5"/>
<line x1="245" y1="809.0" x2="260" y2="809.0" stroke="#000" stroke-width="5"/>
<line x1="245" y1="769.0" x2="260" y2="769.0" stroke="#000" stroke-width="5"/>
<line x1="245" y1="729.0" x2="260" y2="729.0" stroke="#000" stroke-width="5"/>
<line x1="245" y1="689.0" x2="260" y2="689.0" stroke="#000" stroke-width="5"/>
<line x1="245" y1="649.0" x2="260" y2="649.0" stroke="#000" stroke-width="5"/>
<line x1="245" y1="609.6" x2="260" y2="609.6" stroke="#000" stroke-width="5"/>
<line x1="245" y1="570.2" x2="260" y2="570.2" stroke="#000" stroke-width="5"/>
<line x1="245" y1="530.8" x2="260" y2="530.8" stroke="#000" stroke-width="5"/>
<line x1="245" y1="491.4" x2="260" y2="491.4" stroke="#000" stroke-width="5"/>
<line x1="245" y1="452.0" x2="260" y2="452.0" stroke="#000" stroke-width="5"/>
<line x1="245" y1="412.0" x2="260" y2="412.0" stroke="#000" stroke-width="5"/>
<line x1="245" y1="372.0" x2="260" y2="372.0" stroke="#000" stroke-width="5"/>
<line x1="245" y1="332.0" x2="260" y2="332.0" stroke="#000" stroke-width="5"/>
<line x1="245" y1="292.0" x2="260" y2="292.0" stroke="#000" stroke-width="5"/>
<line x1="245" y1="252.0" x2="260" y2="252.0" stroke="#000" stroke-width="5"/>
<line x1="245" y1="212.6" x2="260" y2="212.6" stroke="#000" stroke-width="5"/>
<line x1="245" y1="173.2" x2="260" y2="173.2" stroke="#000" stroke-width="5"/>
<line x1="245" y1="133.8" x2="260" y2="133.8" stroke="#000" stroke-width="5"/>
<line x1="245" y1="94.4" x2="260" y2="94.4" stroke="#000" stroke-width="5"/>
<ellipse cx="298.9" cy="1193.6" rx="20.1" ry="20.7" fill="#808080" stroke="#151515" stroke-width="2.3"/>
<ellipse cx="411.6" cy="886.9" rx="20.1" ry="20.7" fill="#808080" stroke="#151515" stroke-width="2.3"/>
<ellipse cx="637.5" cy="591" rx="20.1" ry="20.7" fill="#808080" stroke="#151515" stroke-width="2.3"/>
<ellipse cx="1815.8" cy="245.7" rx="20.1" ry="20.7" fill="#808080" stroke="#151515" stroke-width="2.3"/>
<ellipse cx="298.6" cy="1241.8" rx="20.1" ry="20.7" fill="#ff4119" stroke="#151515" stroke-width="2.3"/>
<ellipse cx="411.3" cy="971.5" rx="20.1" ry="20.7" fill="#ff4119" stroke="#151515" stroke-width="2.3"/>
<ellipse cx="637.5" cy="693.8" rx="20.1" ry="20.7" fill="#ff4119" stroke="#151515" stroke-width="2.3"/>
<ellipse cx="1815.8" cy="411.5" rx="20.1" ry="20.7" fill="#ff4119" stroke="#151515" stroke-width="2.3"/>
<ellipse cx="242" cy="1442" rx="20.1" ry="20.7" fill="#ff7f27" stroke="#151515" stroke-width="2.3"/>
<ellipse cx="298.6" cy="1284.6" rx="20.1" ry="20.7" fill="#ff7f27" stroke="#151515" stroke-width="2.3"/>
<ellipse cx="411.3" cy="1044.7" rx="20.1" ry="20.7" fill="#ff7f27" stroke="#151515" stroke-width="2.3"/>
<ellipse cx="637.5" cy="848.2" rx="20.1" ry="20.7" fill="#ff7f27" stroke="#151515" stroke-width="2.3"/>
<ellipse cx="1815.8" cy="647.8" rx="20.1" ry="20.7" fill="#ff7f27" stroke="#151515" stroke-width="2.3"/>
<line x1="245" y1="729" x2="1932" y2="729" stroke="rgba(0,0,0,0.28)" stroke-width="9.5"/>
<line x1="245" y1="729" x2="1932" y2="729" stroke="rgba(0,0,0,0.35)" stroke-width="5.8"/>
<line x1="245" y1="850" x2="775" y2="850" stroke="rgba(0,0,0,0.28)" stroke-width="9.5"/>
<line x1="245" y1="850" x2="775" y2="850" stroke="rgba(0,0,0,0.35)" stroke-width="5.8"/>
<line x1="1213" y1="850" x2="1932" y2="850" stroke="rgba(0,0,0,0.28)" stroke-width="9.5"/>
<line x1="1213" y1="850" x2="1932" y2="850" stroke="rgba(0,0,0,0.35)" stroke-width="5.8"/>
<line x1="245" y1="968" x2="1932" y2="968" stroke="rgba(0,0,0,0.28)" stroke-width="9.5"/>
<line x1="245" y1="968" x2="1932" y2="968" stroke="rgba(0,0,0,0.35)" stroke-width="5.8"/>
<rect x="775" y="797" width="438" height="127" fill="#fefefe"/>
<circle cx="339.5" cy="140.5" r="18.7" fill="#808080" stroke="#151515" stroke-width="2.4"/>
<circle cx="339.5" cy="253.3" r="18.7" fill="#ff4119" stroke="#151515" stroke-width="2.4"/>
<circle cx="339.5" cy="365.5" r="18.7" fill="#ff7f27" stroke="#151515" stroke-width="2.4"/>
<text transform="translate(109.60,71.90) scale(0.9644,0.9942)" font-family="'Liberation Serif','Times New Roman',serif" font-size="67" fill="#000">35</text>
<text transform="translate(109.51,272.01) scale(0.9907,0.9901)" font-family="'Liberation Serif','Times New Roman',serif" font-size="67" fill="#000">30</text>
<text transform="translate(112.14,469.15) scale(0.9010,0.9660)" font-family="'Liberation Serif','Times New Roman',serif" font-size="67" fill="#000">25</text>
<text transform="translate(112.51,669.07) scale(0.9253,1.0067)" font-family="'Liberation Serif','Times New Roman',serif" font-size="67" fill="#000">20</text>
<text transform="translate(114.97,865.03) scale(0.8581,0.9693)" font-family="'Liberation Serif','Times New Roman',serif" font-size="67" fill="#000">15</text>
<text transform="translate(114.99,1068.32) scale(0.8975,0.9765)" font-family="'Liberation Serif','Times New Roman',serif" font-size="67" fill="#000">10</text>
<text transform="translate(144.47,1262.22) scale(0.8995,0.9825)" font-family="'Liberation Serif','Times New Roman',serif" font-size="67" fill="#000">5</text>
<text transform="translate(144.21,1462.65) scale(0.9780,0.9731)" font-family="'Liberation Serif','Times New Roman',serif" font-size="67" fill="#000">0</text>
<text transform="translate(227.00,1535.02) scale(1.0000,0.9788)" font-family="'Liberation Serif','Times New Roman',serif" font-size="67" fill="#000">0</text>
<text transform="translate(507.23,1534.53) scale(0.9868,0.9563)" font-family="'Liberation Serif','Times New Roman',serif" font-size="67" fill="#000">5</text>
<text transform="translate(774.53,1534.54) scale(0.9361,0.9573)" font-family="'Liberation Serif','Times New Roman',serif" font-size="67" fill="#000">10</text>
<text transform="translate(1057.02,1533.92) scale(0.8943,0.9602)" font-family="'Liberation Serif','Times New Roman',serif" font-size="67" fill="#000">15</text>
<text transform="translate(1333.15,1533.95) scale(0.9508,0.9484)" font-family="'Liberation Serif','Times New Roman',serif" font-size="67" fill="#000">20</text>
<text transform="translate(1612.86,1533.95) scale(0.9619,0.9484)" font-family="'Liberation Serif','Times New Roman',serif" font-size="67" fill="#000">25</text>
<text transform="translate(1895.81,1533.95) scale(0.9613,0.9484)" font-family="'Liberation Serif','Times New Roman',serif" font-size="67" fill="#000">30</text>
<text transform="translate(980.05,1628.00) scale(0.9538,1.0000)" font-family="'Liberation Serif','Times New Roman',serif" font-size="71" fill="#000">Age(days)</text>
<text transform="translate(76.00,1074.95) rotate(-90) scale(0.9523,1.0000)" font-family="'Liberation Serif','Times New Roman',serif" font-size="71" fill="#000">Compressive strength(MPa)</text>
<text transform="translate(369.55,158.80) scale(0.9638,1.0000)" font-family="'Liberation Serif','Times New Roman',serif" font-size="69.5" fill="#000">SC100</text>
<text transform="translate(369.53,271.50) scale(0.9693,1.0000)" font-family="'Liberation Serif','Times New Roman',serif" font-size="69.5" fill="#000">SC80RM20</text>
<text transform="translate(369.52,384.00) scale(0.9699,1.0000)" font-family="'Liberation Serif','Times New Roman',serif" font-size="69.5" fill="#000">SC80NTRM20</text>
<text transform="translate(795.30,848.20) scale(0.9699,1.0000)" font-family="'Liberation Serif','Times New Roman',serif" font-size="58.5" fill="#000">Strength level for</text>
<text transform="translate(822.17,910.00) scale(0.9670,1.0000)" font-family="'Liberation Serif','Times New Roman',serif" font-size="58.5" fill="#000">application[21]</text>
<text transform="translate(1251.81,714.30) scale(0.9915,1.0000)" font-family="'Liberation Serif','Times New Roman',serif" font-size="56.6" fill="#000">For parking lot (18 MPa)</text>
<text transform="translate(1251.81,835.00) scale(0.9936,1.0000)" font-family="'Liberation Serif','Times New Roman',serif" font-size="56.6" fill="#000">For bike road (15 MPa)</text>
<text transform="translate(1251.81,946.50) scale(0.9931,1.0000)" font-family="'Liberation Serif','Times New Roman',serif" font-size="56.6" fill="#000">For sidewalk (12 MPa)</text>
<rect x="304" y="14" width="2" height="2" fill="#d0d0d0"/>
<rect x="603" y="14" width="2" height="2" fill="#d0d0d0"/>
<rect x="902" y="14" width="2" height="2" fill="#d0d0d0"/>
<rect x="1200" y="14" width="2" height="2" fill="#d0d0d0"/>
<rect x="1499" y="14" width="2" height="2" fill="#d0d0d0"/>
<rect x="1797" y="14" width="2" height="2" fill="#d0d0d0"/>
<rect x="305" y="1659" width="2" height="2" fill="#d0d0d0"/>
<rect x="603" y="1659" width="2" height="2" fill="#d0d0d0"/>
<rect x="901" y="1659" width="2" height="2" fill="#d0d0d0"/>
<rect x="1199" y="1659" width="2" height="2" fill="#d0d0d0"/>
<rect x="1498" y="1659" width="2" height="2" fill="#d0d0d0"/>
<rect x="1796" y="1659" width="2" height="2" fill="#d0d0d0"/>
</g>
</svg>
</body></html>
